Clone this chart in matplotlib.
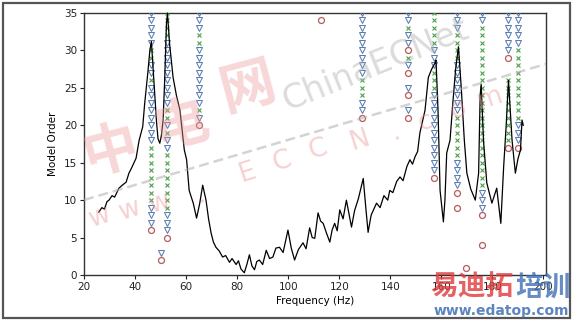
import matplotlib
matplotlib.use("Agg")
import matplotlib.pyplot as plt
from matplotlib.patches import Rectangle
from matplotlib.lines import Line2D

# ---------------- data ----------------
curve_freq = [25.8, 27, 28, 29, 29.8, 31, 32, 33.7, 35, 36.5, 37.6, 38.5, 40.4, 41.6, 43.0, 43.8,
              45.0, 45.8, 46.4, 47.0, 47.7, 48.4, 49.0, 49.7, 50.3, 51.0, 51.6, 52.3, 52.7, 53.5,
              54.9, 56.2, 57.6, 59.3, 60.2, 61.2, 62.8, 64.1, 65.3, 66.5, 67.8, 68.8, 69.8, 70.7,
              71.7, 73, 74.3, 75.5, 77.0, 78, 79.6, 80.5, 81.5, 82.8, 83.8, 84.8, 85.8, 86.8, 87.7,
              88.7, 90, 91.4, 92.7, 94, 95.2, 96.6, 98, 99.9, 101.2, 102.5, 104, 105.8, 107, 108.4,
              109.4, 110.4, 111.7, 112.7, 113.7, 115, 116.3, 117.2, 118.2, 119.2, 120.2, 121.5,
              122.8, 123.8, 124.8, 126, 127.5, 129.4, 130.4, 131.3, 132.5, 134.6, 136, 137.5, 139,
              139.8, 141, 142.5, 143.8, 145, 146.5, 147.7, 148.7, 149.7, 150.7, 151.6, 152.6, 153.6,
              154.9, 156.2, 157.5, 157.9, 158.7, 159.5, 160.8, 161.4, 162.1, 163.4, 164.5, 165.6,
              166.7, 167.8, 169, 170, 171.5, 173.3, 174.0, 174.6, 175.2, 175.6, 176.5, 177.8, 179.8,
              181.7, 183.3, 184.4, 185.4, 186.3, 187.7, 189, 190, 191, 191.6, 192.1]
curve_level = [8.4, 9.0, 8.8, 9.8, 10.0, 10.6, 10.4, 11.6, 12.0, 12.4, 13.6, 14.2, 15.6, 18.0, 19.8, 23.0,
               27.0, 30.0, 31.2, 28.0, 24.3, 20.5, 18.2, 17.6, 18.6, 20.7, 26.0, 33.5, 35.0, 31.0,
               26.4, 24.0, 22.0, 16.7, 15.4, 11.3, 9.6, 7.6, 9.5, 12.0, 10.0, 7.5, 5.6, 4.4,
               3.7, 3.2, 2.4, 2.6, 1.7, 2.2, 1.4, 1.9, 0.8, 0.3, 1.4, 2.7, 1.2, 0.7, 1.8,
               2.0, 1.4, 3.3, 2.2, 2.4, 3.6, 3.7, 3.0, 6.0, 3.6, 2.0, 3.4, 4.3, 3.5, 6.3,
               5.0, 4.9, 8.3, 7.2, 6.9, 5.6, 4.4, 6.0, 6.9, 5.9, 8.7, 7.5,
               10.0, 8.2, 6.4, 8.6, 10.2, 12.9, 9.0, 5.7, 8.0, 9.6, 9.0, 10.6, 10.0,
               11.3, 11.0, 12.5, 13.1, 12.6, 14.5, 15.4, 14.8, 15.8, 16.5, 19.0, 20.5, 22.0,
               26.4, 27.5, 28.3, 28.7, 22.0, 11.3, 7.1, 10.0, 16.3, 18.0, 23.0, 27.5,
               30.5, 25.0, 18.0, 13.6, 11.5, 10.0, 12.0, 13.6, 24.0, 25.5, 18.0, 12.3, 9.6,
               11.6, 6.9, 14.4, 20.0, 26.0, 18.0, 13.6, 15.5, 16.7, 20.7, 20.0]

# stabilization columns: frequency, orders with 'v' (freq stable), orders with 'x' (stable)
col_freqs = [46.3, 52.6, 50.3, 65.2, 129.0, 147.0, 157.0, 166.0, 176.0, 186.0, 190.0]
col_v = [
    [35, 34, 33, 32, 31, 28, 27, 25, 24, 23, 22, 21, 20, 19, 18, 9, 8, 7],
    [31, 30, 29, 28, 27, 26, 25, 24, 23, 20, 18, 17, 8, 7, 6],
    [3],
    [35, 34, 33, 30, 29, 28, 27, 26, 25, 24, 23, 21],
    [35, 34, 33, 32, 31, 30, 29, 28, 27, 23, 22],
    [35, 34, 32, 31, 28, 25, 22],
    [30, 29, 28, 24, 23, 22, 21, 20, 19, 18, 17, 16, 15, 14],
    [35, 34, 33, 28, 27, 26, 25, 24, 23, 22, 15, 14, 13, 12],
    [35, 34, 11, 10, 9],
    [35, 34, 33, 32, 31, 30],
    [35, 34, 33, 32, 31, 20, 19, 18],
]
col_x = [
    [30, 29, 26, 17, 16, 15, 14, 13, 12, 11, 10],
    [35, 34, 33, 32, 22, 21, 19, 16, 15, 14, 13, 12, 11, 10, 9],
    [],
    [32, 31, 22],
    [26, 25, 24],
    [33, 29],
    [35, 34, 33, 32, 31, 27, 26, 25],
    [32, 31, 30, 29, 21, 20, 19, 18, 17, 16],
    [33, 32, 31, 30, 29, 28, 27, 26, 25, 24, 23, 22, 21, 20, 19, 18, 17, 16, 15, 14, 13, 12],
    [26, 25, 24, 23, 22, 21, 20, 19, 18],
    [30, 29, 28, 27, 26, 25, 24, 23, 22, 21],
]
# new poles (circles)
circle_freq = [46.3, 52.6, 50.3, 65.2, 112.7, 129.0, 147.0, 147.0, 147.0, 147.0, 157.0,
               166.0, 166.0, 176.0, 176.0, 169.7, 186.0, 186.0, 190.0]
circle_order = [6, 5, 2, 20, 34, 21, 30, 27, 24, 21, 13, 11, 9, 8, 4, 1, 29, 17, 17]

x_ticks = [20, 40, 60, 80, 100, 120, 140, 160, 180, 200]
y_ticks = [0, 5, 10, 15, 20, 25, 30, 35]

# ---------------- figure ----------------
W, H = 576, 323
fig = plt.figure(figsize=(W / 100, H / 100), dpi=100)
fig.patch.set_facecolor("white")

def fx(px):
    return px / W

def fy(py):
    return 1 - py / H

# outer frame
fig.patches.append(Rectangle((fx(3), fy(318)), fx(570) - fx(3), fy(3) - fy(318),
                             transform=fig.transFigure, fill=False, edgecolor="#555555",
                             linewidth=1.6, zorder=0))

ax = fig.add_axes([fx(84), fy(275), fx(546) - fx(84), fy(13) - fy(275)])
ax.set_xlim(20, 201)
ax.set_ylim(0, 35)

blue = "#5a7db0"
green = "#4aa04a"
red = "#b85a5a"

for f, vs, xs in zip(col_freqs, col_v, col_x):
    if vs:
        ax.plot([f] * len(vs), vs, linestyle="none", marker="v", markersize=4.0,
                markerfacecolor="none", markeredgecolor=blue, markeredgewidth=0.75, zorder=3)
    if xs:
        ax.plot([f] * len(xs), xs, linestyle="none", marker="x", markersize=3.4,
                markeredgecolor=green, markeredgewidth=0.8, zorder=3)

ax.plot(circle_freq, circle_order, linestyle="none", marker="o", markersize=4.3,
        markerfacecolor="none", markeredgecolor=red, markeredgewidth=0.9, zorder=4)

ax.plot(curve_freq, curve_level, color="black", linewidth=0.9, zorder=5, clip_on=False)

ax.set_xticks(x_ticks)
ax.set_yticks(y_ticks)
ax.tick_params(axis="both", labelsize=7.5, length=3, width=0.8, direction="out",
               colors="#222222", pad=2)
for s in ax.spines.values():
    s.set_color("#333333")
    s.set_linewidth(1.0)
ax.set_xlabel("Frequency (Hz)", fontsize=7.5, labelpad=3)
ax.set_ylabel("Model Order", fontsize=7.5, labelpad=4)

# ---------------- watermarks ----------------
cjk = ["Noto Sans CJK SC", "DejaVu Sans"]
fig.add_artist(Line2D([fx(84), fx(546)], [fy(200), fy(64)], transform=fig.transFigure,
                      color="#b0b0b0", linewidth=1.8, linestyle=(0, (4, 2)), alpha=0.55, zorder=6))
for ch, px, py in [("中", 110, 152), ("电", 182, 125), ("网", 248, 88)]:
    fig.text(fx(px), fy(py), ch, fontsize=40, color="#ec9a9a", alpha=0.4, family=cjk,
             weight="bold", ha="center", va="center", rotation=15, zorder=6)
fig.text(fx(375), fy(65), "ChinaECNet", fontsize=24, color="#b0b0b0", alpha=0.45,
         ha="center", va="center", rotation=22, zorder=6)
for ch, px, py in [("w", 100, 217), ("w", 130, 210), ("w", 160, 203), (".", 200, 195),
                   ("E", 247, 173), ("C", 282, 162), ("C", 318, 150), ("N", 360, 140),
                   (".", 395, 132), ("c", 425, 122), ("o", 458, 110), ("m", 490, 98)]:
    fig.text(fx(px), fy(py), ch, fontsize=19, color="#ec8c8c", alpha=0.4,
             ha="center", va="center", rotation=18, zorder=6)

fig.text(fx(472), fy(288), "易迪拓", fontsize=20, color="#e03a3a", family=cjk, weight="bold",
         ha="center", va="center", alpha=0.8, zorder=7)
fig.text(fx(543), fy(288), "培训", fontsize=20, color="#3f6fb5", family=cjk, weight="bold",
         ha="center", va="center", alpha=0.8, zorder=7)
fig.text(fx(501), fy(311), "www.edatop.com", fontsize=10, color="#3f6fb5", weight="bold",
         ha="center", va="center", alpha=0.85, zorder=7)

fig.savefig("out.png", dpi=100)
